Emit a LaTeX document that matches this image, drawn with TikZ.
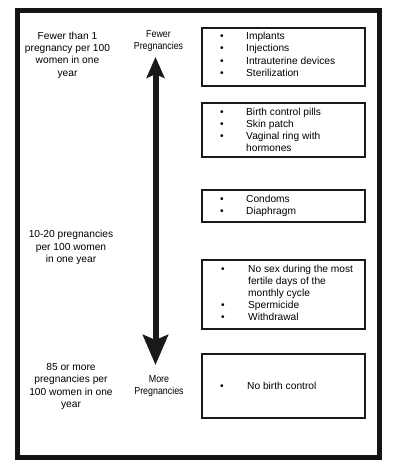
\documentclass[tikz,border=0pt]{standalone}
\usepackage{fontspec}
\setmainfont{Liberation Sans}
\usetikzlibrary{arrows.meta}
\begin{document}
\begin{tikzpicture}[x=1pt,y=-1pt,
  lbl/.style={align=center,inner sep=0pt,font=\fontsize{10.2}{12.3}\selectfont},
  side/.style={align=center,inner sep=0pt,font=\fontsize{10.2}{12}\selectfont},
  box/.style={draw=black!90,line width=1.9pt,minimum width=163pt,inner sep=0pt},
  items/.style={anchor=west,inner sep=0pt,font=\fontsize{10.2}{12.2}\selectfont},
  frame/.style={draw=black!92,line width=5pt}]
\useasboundingbox (0,0) rectangle (400,474);
\node[frame,minimum width=362pt,minimum height=447pt,inner sep=0pt] (fr) at (198.5,234) {};
% left texts
\node[lbl] (t1) at (67.5,55) {Fewer than 1\\pregnancy per 100\\women in one\\year};
\node[lbl] (t2) at (71,247.5) {10-20 pregnancies\\per 100 women\\in one year};
\node[lbl] (t3) at (71,386.5) {85 or more\\pregnancies per\\100 women in one\\year};
% arrow labels
\node[side] (few) at (158.5,41.5) {\scalebox{0.87}[1]{Fewer}\\\scalebox{0.87}[1]{Pregnancies}};
\node[side] (more) at (159,386.5) {\scalebox{0.87}[1]{More}\\\scalebox{0.87}[1]{Pregnancies}};
\coordinate (atop) at (155.5,57);
\coordinate (abot) at (155.5,365);
\draw[line width=6pt,black!90,{Stealth[length=21pt,width=18pt,inset=4pt]}-{Stealth[length=30pt,width=25pt,inset=5pt]}] (atop) -- (abot);
% boxes
\node[box,minimum height=58pt] (b1) at (283.5,57) {};
\node[box,minimum height=54pt] (b2) at (283.5,130) {};
\node[box,minimum height=32pt] (b3) at (283.5,206) {};
\node[box,minimum height=69pt] (b4) at (283.5,294.5) {};
\node[box,minimum height=64pt] (b5) at (283.5,386) {};
\node[items] (l1) at (220,55.5) {\begin{tabular}{@{}p{26pt}@{}l@{}}
\textbullet & Implants\\ \textbullet & Injections\\ \textbullet & Intrauterine devices\\ \textbullet & Sterilization\end{tabular}};
\node[items] (l2) at (220,131) {\begin{tabular}{@{}p{26pt}@{}l@{}}
\textbullet & Birth control pills\\ \textbullet & Skin patch\\ \textbullet & Vaginal ring with\\ & hormones\end{tabular}};
\node[items] (l3) at (220,206) {\begin{tabular}{@{}p{26pt}@{}l@{}}
\textbullet & Condoms\\ \textbullet & Diaphragm\end{tabular}};
\node[items] (l4) at (221,294) {\begin{tabular}{@{}p{27pt}@{}l@{}}
\textbullet & No sex during the most\\ & fertile days of the\\ & monthly cycle\\ \textbullet & Spermicide\\ \textbullet & Withdrawal\end{tabular}};
\node[items] (l5) at (220,387) {\begin{tabular}{@{}p{27pt}@{}l@{}}
\textbullet & No birth control\end{tabular}};
\end{tikzpicture}
\end{document}
